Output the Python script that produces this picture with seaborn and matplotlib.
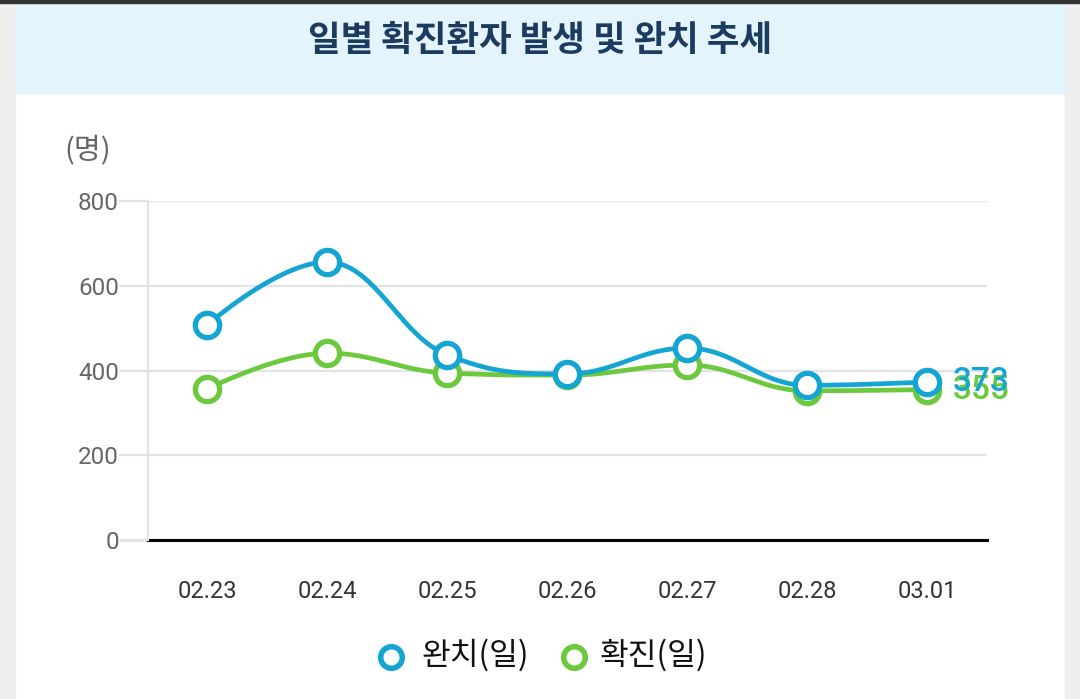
import numpy as np
import pandas as pd
import matplotlib
matplotlib.use("Agg")
import matplotlib.pyplot as plt
from matplotlib.patches import Rectangle
import seaborn as sns

# ---- data ----
dates = ["02.23", "02.24", "02.25", "02.26", "02.27", "02.28", "03.01"]
recovered = [507, 656, 437, 392, 453, 365, 373]   # 완치(일)
confirmed = [356, 441, 394, 389, 413, 352, 355]   # 확진(일)
yticks = [0, 200, 400, 600, 800]
title = "일별 확진환자 발생 및 완치 추세"
unit_label = "(명)"
series_names = ["완치(일)", "확진(일)"]

sns.set_theme(style="white")
plt.rcParams["font.family"] = ["Noto Sans CJK KR", "DejaVu Sans"]

BLUE = "#14a5d2"
GREEN = "#6cc83c"

W, H = 1080, 699
fig = plt.figure(figsize=(W / 100, H / 100), dpi=100)
fig.patch.set_facecolor("white")

# page background elements
fig.patches.append(Rectangle((0, 0), 15 / W, 1, transform=fig.transFigure, color="#eeefee", zorder=0))
fig.patches.append(Rectangle((1065 / W, 0), 15 / W, 1, transform=fig.transFigure, color="#eeefee", zorder=0))
fig.patches.append(Rectangle((15 / W, (H - 93) / H), 1050 / W, 90 / H, transform=fig.transFigure,
                             color="#e3f4fd", zorder=0))
fig.patches.append(Rectangle((0, (H - 3) / H), 1, 3 / H, transform=fig.transFigure, color="#333333", zorder=1))

fig.text(540 / W, 1 - 40 / H, title, ha="center", va="center", fontsize=25.5, fontweight="black",
         color="#1b3c5f")
fig.text(88 / W, 1 - 150 / H, unit_label, ha="center", va="center", fontsize=21, color="#666666")

ax = fig.add_axes([148 / W, (H - 540) / H, (987 - 148) / W, (540 - 201) / H])
ax.set_facecolor("none")


def spline(xs, ys, n=40, smoothing=1.5, denom=2.5):
    xs = np.asarray(xs, float)
    ys = np.asarray(ys, float)
    m = len(xs)
    lc = np.zeros((m, 2))
    rc = np.zeros((m, 2))
    for i in range(m):
        x, y = xs[i], ys[i]
        lc[i] = (x, y)
        rc[i] = (x, y)
        if 0 < i < m - 1:
            lx, ly = xs[i - 1], ys[i - 1]
            nx, ny = xs[i + 1], ys[i + 1]
            lcx = (smoothing * x + lx) / denom
            lcy = (smoothing * y + ly) / denom
            rcx = (smoothing * x + nx) / denom
            rcy = (smoothing * y + ny) / denom
            corr = ((rcy - lcy) * (rcx - x)) / (rcx - lcx) + y - rcy
            lcy += corr
            rcy += corr
            if lcy > ly and lcy > y:
                lcy = max(ly, y); rcy = 2 * y - lcy
            elif lcy < ly and lcy < y:
                lcy = min(ly, y); rcy = 2 * y - lcy
            if rcy > ny and rcy > y:
                rcy = max(ny, y); lcy = 2 * y - rcy
            elif rcy < ny and rcy < y:
                rcy = min(ny, y); lcy = 2 * y - rcy
            lc[i] = (lcx, lcy)
            rc[i] = (rcx, rcy)
    px, py = [], []
    t = np.linspace(0, 1, n)
    for i in range(m - 1):
        p0 = np.array([xs[i], ys[i]])
        p1 = rc[i]
        p2 = lc[i + 1]
        p3 = np.array([xs[i + 1], ys[i + 1]])
        b = ((1 - t) ** 3)[:, None] * p0 + (3 * (1 - t) ** 2 * t)[:, None] * p1 + \
            (3 * (1 - t) * t ** 2)[:, None] * p2 + (t ** 3)[:, None] * p3
        px.extend(b[:, 0]); py.extend(b[:, 1])
    return np.array(px), np.array(py)


xpos = np.arange(len(dates))
for vals, color, z in [(confirmed, GREEN, 3), (recovered, BLUE, 5)]:
    sx, sy = spline(xpos, vals)
    sns.lineplot(x=sx, y=sy, ax=ax, color=color, linewidth=3.4, sort=False, zorder=z,
                 estimator=None)
    ax.plot(xpos, vals, linestyle="none", marker="o", markersize=17.5, markerfacecolor="white",
            markeredgecolor=color, markeredgewidth=3.8, zorder=z + 0.5, clip_on=False)

ax.text(xpos[-1] + 0.215, confirmed[-1], str(confirmed[-1]), color=GREEN, fontsize=24,
        va="center", ha="left", family="Roboto", fontweight="medium", zorder=7)
ax.text(xpos[-1] + 0.215, recovered[-1], str(recovered[-1]), color=BLUE, fontsize=24,
        va="center", ha="left", family="Roboto", fontweight="medium", zorder=8)

ax.set_xlim(-(207 - 148) / 120, 6.5)
ax.set_ylim(0, 800)
ax.set_yticks(yticks)
ax.set_yticklabels([str(v) for v in yticks], family="Roboto", fontsize=17.5, color="#666666")
ax.set_xticks(xpos)
ax.set_xticklabels(dates, family="Roboto", fontsize=17, color="#333333")
ax.tick_params(axis="y", length=21, width=1.6, color="#e3e3e3", pad=0, direction="out", left=True)
ax.tick_params(axis="x", length=0, pad=29)
ax.yaxis.get_major_ticks()[0].tick1line.set_color("black")
ax.yaxis.get_major_ticks()[0].tick1line.set_markeredgewidth(2.2)
ax.grid(axis="y", color="#e3e3e3", linewidth=1.6)
ax.grid(axis="x", visible=False)
for s in ["top", "right"]:
    ax.spines[s].set_visible(False)
ax.spines["left"].set_color("#e3e3e3")
ax.spines["left"].set_linewidth(1.6)
ax.spines["bottom"].set_color("black")
ax.spines["bottom"].set_linewidth(2.2)
ax.spines["bottom"].set_zorder(2)
ax.set_xlabel("")
ax.set_ylabel("")

# legend
lx = [391, 574]
tx = [421, 600]
for name, color, mx, txx in zip(series_names, [BLUE, GREEN], lx, tx):
    fig.lines.append(matplotlib.lines.Line2D([mx / W], [1 - 657 / H], transform=fig.transFigure,
                                             marker="o", markersize=15.5, markerfacecolor="white",
                                             markeredgecolor=color, markeredgewidth=4))
    fig.text(txx / W, 1 - 655 / H, name, ha="left", va="center", fontsize=22.5, color="#111111")

fig.savefig("out.png", dpi=100)
